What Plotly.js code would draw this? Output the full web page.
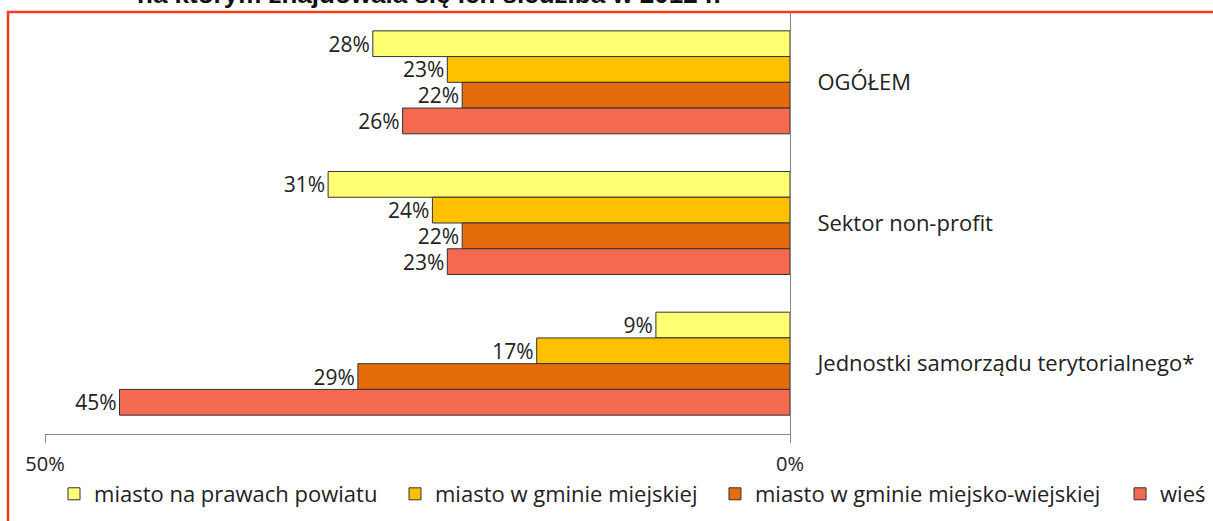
<!DOCTYPE html>
<html>
<head>
<meta charset="utf-8">
<script src="https://cdn.plot.ly/plotly-3.0.1.min.js"></script>
<style>html,body{margin:0;padding:0;background:#fff;}#chart{width:1213px;height:521px;}</style>
</head>
<body>
<div id="chart"></div>
<script>
const categories = ["OGÓŁEM", "Sektor non-profit", "Jednostki samorządu terytorialnego*"];
const seriesNames = ["miasto na prawach powiatu", "miasto w gminie miejskiej", "miasto w gminie miejsko-wiejskiej", "wieś"];
const miastoNaPrawachPowiatu = [28, 31, 9];
const miastoWGminieMiejskiej = [23, 24, 17];
const miastoWGminieMiejskoWiejskiej = [22, 22, 29];
const wies = [26, 23, 45];
const xTickVals = [0, 50];
const xTickText = ["0%", "50%"];
const titleText = "na którym znajdowała się ich siedziba w 2012 r.";

const seriesValues = [miastoNaPrawachPowiatu, miastoWGminieMiejskiej, miastoWGminieMiejskoWiejskiej, wies];
const colors = ["#FFFF73", "#FFC000", "#E46C0A", "#F4694F"];
const legendIds = ["legend", "legend2", "legend3", "legend4"];
const legendX = [0.0121, 0.4698, 0.8993, 1.443];

const FONT = "'Open Sans', 'Noto Sans', sans-serif";

const traces = seriesValues.map((vals, i) => ({
  type: "bar",
  orientation: "h",
  name: seriesNames[i],
  y: categories,
  x: vals,
  text: vals.map(v => v + "%"),
  textposition: "outside",
  constraintext: "none",
  cliponaxis: false,
  textfont: {family: FONT, size: 21, color: "#222"},
  marker: {color: colors[i], line: {color: "#333", width: 1}},
  legend: legendIds[i],
  hoverinfo: "skip"
}));

const layout = {
  width: 1213,
  height: 521,
  margin: {l: 45, r: 423, t: 12, b: 87, autoexpand: false},
  paper_bgcolor: "#fff",
  plot_bgcolor: "#fff",
  font: {family: FONT, size: 22, color: "#222"},
  barmode: "group",
  bargap: 0.268,
  bargroupgap: 0,
  showlegend: true,
  xaxis: {
    range: [50, 0],
    tickvals: xTickVals,
    ticktext: xTickText,
    ticks: "outside",
    ticklen: 8,
    tickcolor: "#888",
    showline: true,
    linecolor: "#888",
    linewidth: 1,
    showgrid: false,
    zeroline: false,
    ticklabelstandoff: 4,
    tickfont: {family: FONT, size: 20, color: "#222"},
    fixedrange: true
  },
  yaxis: {
    type: "category",
    categoryorder: "array",
    categoryarray: categories,
    autorange: "reversed",
    side: "right",
    showline: true,
    linecolor: "#888",
    linewidth: 1,
    showgrid: false,
    zeroline: false,
    ticks: "",
    ticklabelstandoff: 22,
    tickfont: {family: FONT, size: 22, color: "#222"},
    fixedrange: true
  },
  shapes: [{
    type: "rect", xref: "paper", yref: "paper",
    x0: (8 - 45) / 745, x1: (1225 - 45) / 745,
    y0: (434 - 540) / 422, y1: (434 - 12) / 422,
    line: {color: "#F03C1E", width: 2.5},
    fillcolor: "rgba(0,0,0,0)",
    layer: "below"
  }],
  annotations: [{
    text: "<b>" + titleText + "</b>",
    xref: "paper", yref: "paper",
    x: (135 - 45) / 745, y: (434 - 11) / 422,
    xanchor: "left", yanchor: "bottom",
    showarrow: false,
    font: {family: "'Liberation Sans', Arial, sans-serif", size: 26, color: "#111"}
  }]
};

legendIds.forEach((id, i) => {
  layout[id] = {
    orientation: "h",
    x: legendX[i],
    xanchor: "left",
    y: (434 - 494) / 422,
    yanchor: "middle",
    bgcolor: "rgba(0,0,0,0)",
    borderwidth: 0,
    font: {family: FONT, size: 22, color: "#222"}
  };
});

Plotly.newPlot("chart", traces, layout, {displayModeBar: false, staticPlot: true});
</script>
</body>
</html>
